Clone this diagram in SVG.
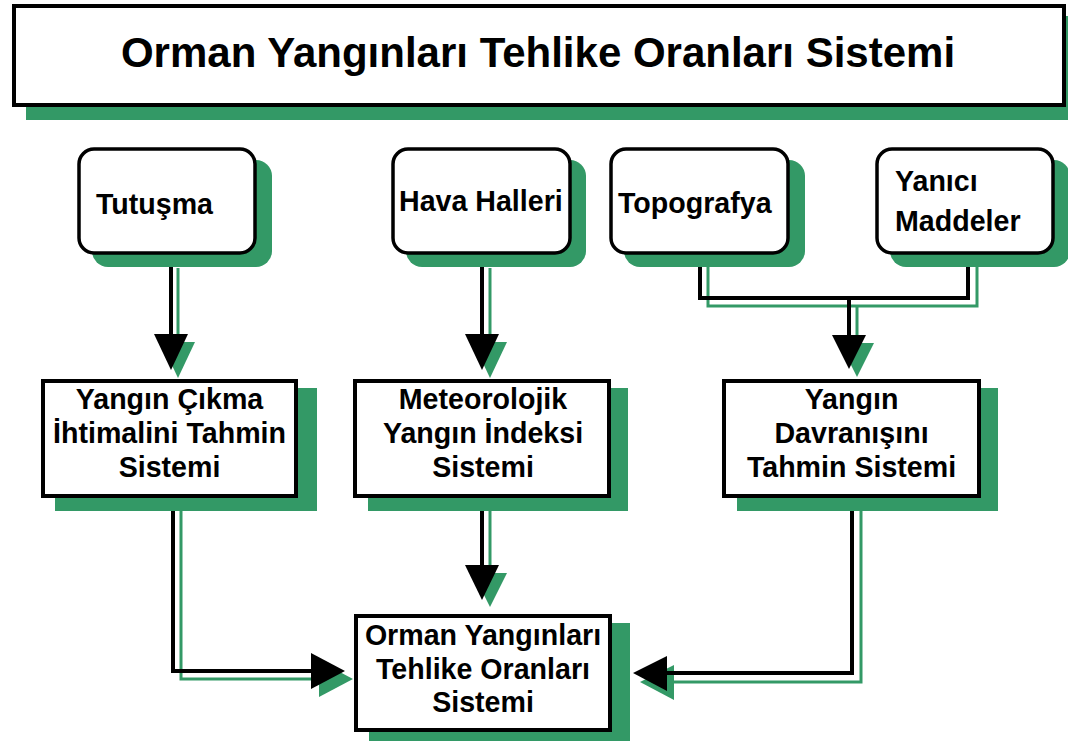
<svg xmlns="http://www.w3.org/2000/svg" width="1068" height="741" viewBox="0 0 1068 741">
<style>
.sh{fill:#339966;}
.rb{fill:#ffffff;stroke:#000000;stroke-width:3.5;}
.bx{fill:#ffffff;stroke:#000000;stroke-width:4;}
.t{font-family:"Liberation Sans",Arial,sans-serif;font-weight:bold;font-size:28.6px;fill:#000000;}
.tm{font-family:"Liberation Sans",Arial,sans-serif;font-weight:bold;font-size:28.6px;fill:#000000;text-anchor:middle;}
.gl{fill:none;stroke:#339966;stroke-width:3;}
.bl{fill:none;stroke:#000000;stroke-width:4;}
.ga{fill:#339966;}
.ba{fill:#000000;}
</style>
<rect width="1068" height="741" fill="#ffffff"/>
<g id="connectors">
  <path class="gl" d="M178,268 V344"/>
  <path class="gl" d="M490,268 V344"/>
  <path class="gl" d="M708,267 V306 H977 V267"/>
  <path class="gl" d="M857,306 V345"/>
  <path class="gl" d="M490,511 V575"/>
  <path class="gl" d="M181,511 V679 H321"/>
  <path class="gl" d="M861,511 V682 H672"/>
  <polygon class="ga" points="161,342 195,342 178,378"/>
  <polygon class="ga" points="473,342 507,342 490,378"/>
  <polygon class="ga" points="840,343 874,343 857,377"/>
  <polygon class="ga" points="473,573 507,573 490,607"/>
  <polygon class="ga" points="319,661 319,697 353,679"/>
  <polygon class="ga" points="674,665 674,700 640,682"/>
  <path class="bl" d="M171,253 V336"/>
  <path class="bl" d="M482,253 V336"/>
  <path class="bl" d="M700,253 V298 H968 V253"/>
  <path class="bl" d="M849,298 V337"/>
  <path class="bl" d="M482,496 V567"/>
  <path class="bl" d="M173,496 V671 H313"/>
  <path class="bl" d="M852,496 V673 H665"/>
  <polygon class="ba" points="154,334 188,334 171,370"/>
  <polygon class="ba" points="465,334 499,334 482,370"/>
  <polygon class="ba" points="832,335 866,335 849,369"/>
  <polygon class="ba" points="465,565 499,565 482,600"/>
  <polygon class="ba" points="311,653 311,689 345,671"/>
  <polygon class="ba" points="667,656 667,691 633,673"/>
</g>
<g id="title">
  <rect class="sh" x="26" y="16" width="1060" height="104"/>
  <rect class="bx" x="14" y="6" width="1050" height="99"/>
  <text x="538" y="67" font-family="'Liberation Sans',Arial,sans-serif" font-weight="bold" font-size="42" text-anchor="middle">Orman Yangınları Tehlike Oranları Sistemi</text>
</g>
<g id="tutusma">
  <rect class="sh" x="92" y="160" width="180" height="107" rx="16"/>
  <rect class="rb" x="79" y="149" width="176" height="104" rx="15"/>
  <text class="t" x="96" y="214">Tutuşma</text>
</g>
<g id="hava-halleri">
  <rect class="sh" x="406" y="160" width="180" height="107" rx="16"/>
  <rect class="rb" x="393" y="149" width="177" height="104" rx="15"/>
  <text class="t" x="399" y="211">Hava Halleri</text>
</g>
<g id="topografya">
  <rect class="sh" x="624" y="160" width="181" height="107" rx="16"/>
  <rect class="rb" x="611" y="149" width="177" height="104" rx="15"/>
  <text class="t" x="618" y="213">Topografya</text>
</g>
<g id="yanici-maddeler">
  <rect class="sh" x="890" y="160" width="180" height="107" rx="16"/>
  <rect class="rb" x="877" y="149" width="176" height="104" rx="15"/>
  <text class="t" x="895" y="191">Yanıcı</text>
  <text class="t" x="895" y="231">Maddeler</text>
</g>
<g id="yangin-cikma">
  <rect class="sh" x="55" y="388" width="262" height="123"/>
  <rect class="bx" x="43" y="381" width="253" height="115"/>
  <text class="tm" x="169.5" y="409">Yangın Çıkma</text>
  <text class="tm" x="169.5" y="443">İhtimalini Tahmin</text>
  <text class="tm" x="169.5" y="477">Sistemi</text>
</g>
<g id="meteorolojik">
  <rect class="sh" x="368" y="388" width="260" height="123"/>
  <rect class="bx" x="355" y="381" width="254" height="115"/>
  <text class="tm" x="483" y="409">Meteorolojik</text>
  <text class="tm" x="483" y="443">Yangın İndeksi</text>
  <text class="tm" x="483" y="477">Sistemi</text>
</g>
<g id="yangin-davranisi">
  <rect class="sh" x="737" y="388" width="261" height="123"/>
  <rect class="bx" x="724" y="381" width="255" height="115"/>
  <text class="tm" x="851.5" y="409">Yangın</text>
  <text class="tm" x="851.5" y="443">Davranışını</text>
  <text class="tm" x="851.5" y="477">Tahmin Sistemi</text>
</g>
<g id="orman-yanginlari">
  <rect class="sh" x="369" y="623" width="261" height="118"/>
  <rect class="bx" x="356" y="616" width="254" height="114"/>
  <text class="tm" x="483" y="645">Orman Yangınları</text>
  <text class="tm" x="483" y="679">Tehlike Oranları</text>
  <text class="tm" x="483" y="712">Sistemi</text>
</g>
</svg>
